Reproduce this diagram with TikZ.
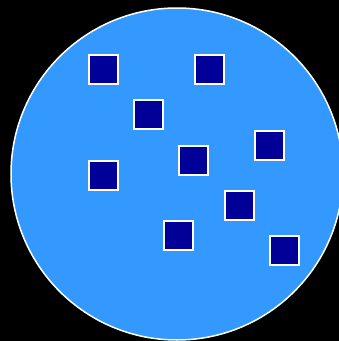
\documentclass[tikz,border=0pt]{standalone}
\definecolor{discblue}{HTML}{3399FF}
\definecolor{boxblue}{HTML}{000099}
\tikzset{
  disc/.style={circle, fill=discblue, draw=white, line width=1.5pt, inner sep=0pt, minimum size=332pt},
  sqbox/.style={rectangle, fill=boxblue, draw=white, line width=2pt, inner sep=0pt, minimum size=29pt}
}
\begin{document}
\begin{tikzpicture}[x=1pt, y=-1pt]
  % Background
  \useasboundingbox (0,0) rectangle (339,341);
  \clip (0,0) rectangle (339,341);
  \fill[black] (0,0) rectangle (339,341);
  % Big disc
  \node[disc] (plate) at (177,174) {};
  % Small squares
  \foreach \n/\x/\y in {1/103/69, 2/209/69, 3/148/114, 4/269/145, 5/103/175,
                        6/193/160, 7/239/205, 8/178/235, 9/284/250}
    \node[sqbox] (sq\n) at (\x,\y) {};
\end{tikzpicture}
\end{document}
